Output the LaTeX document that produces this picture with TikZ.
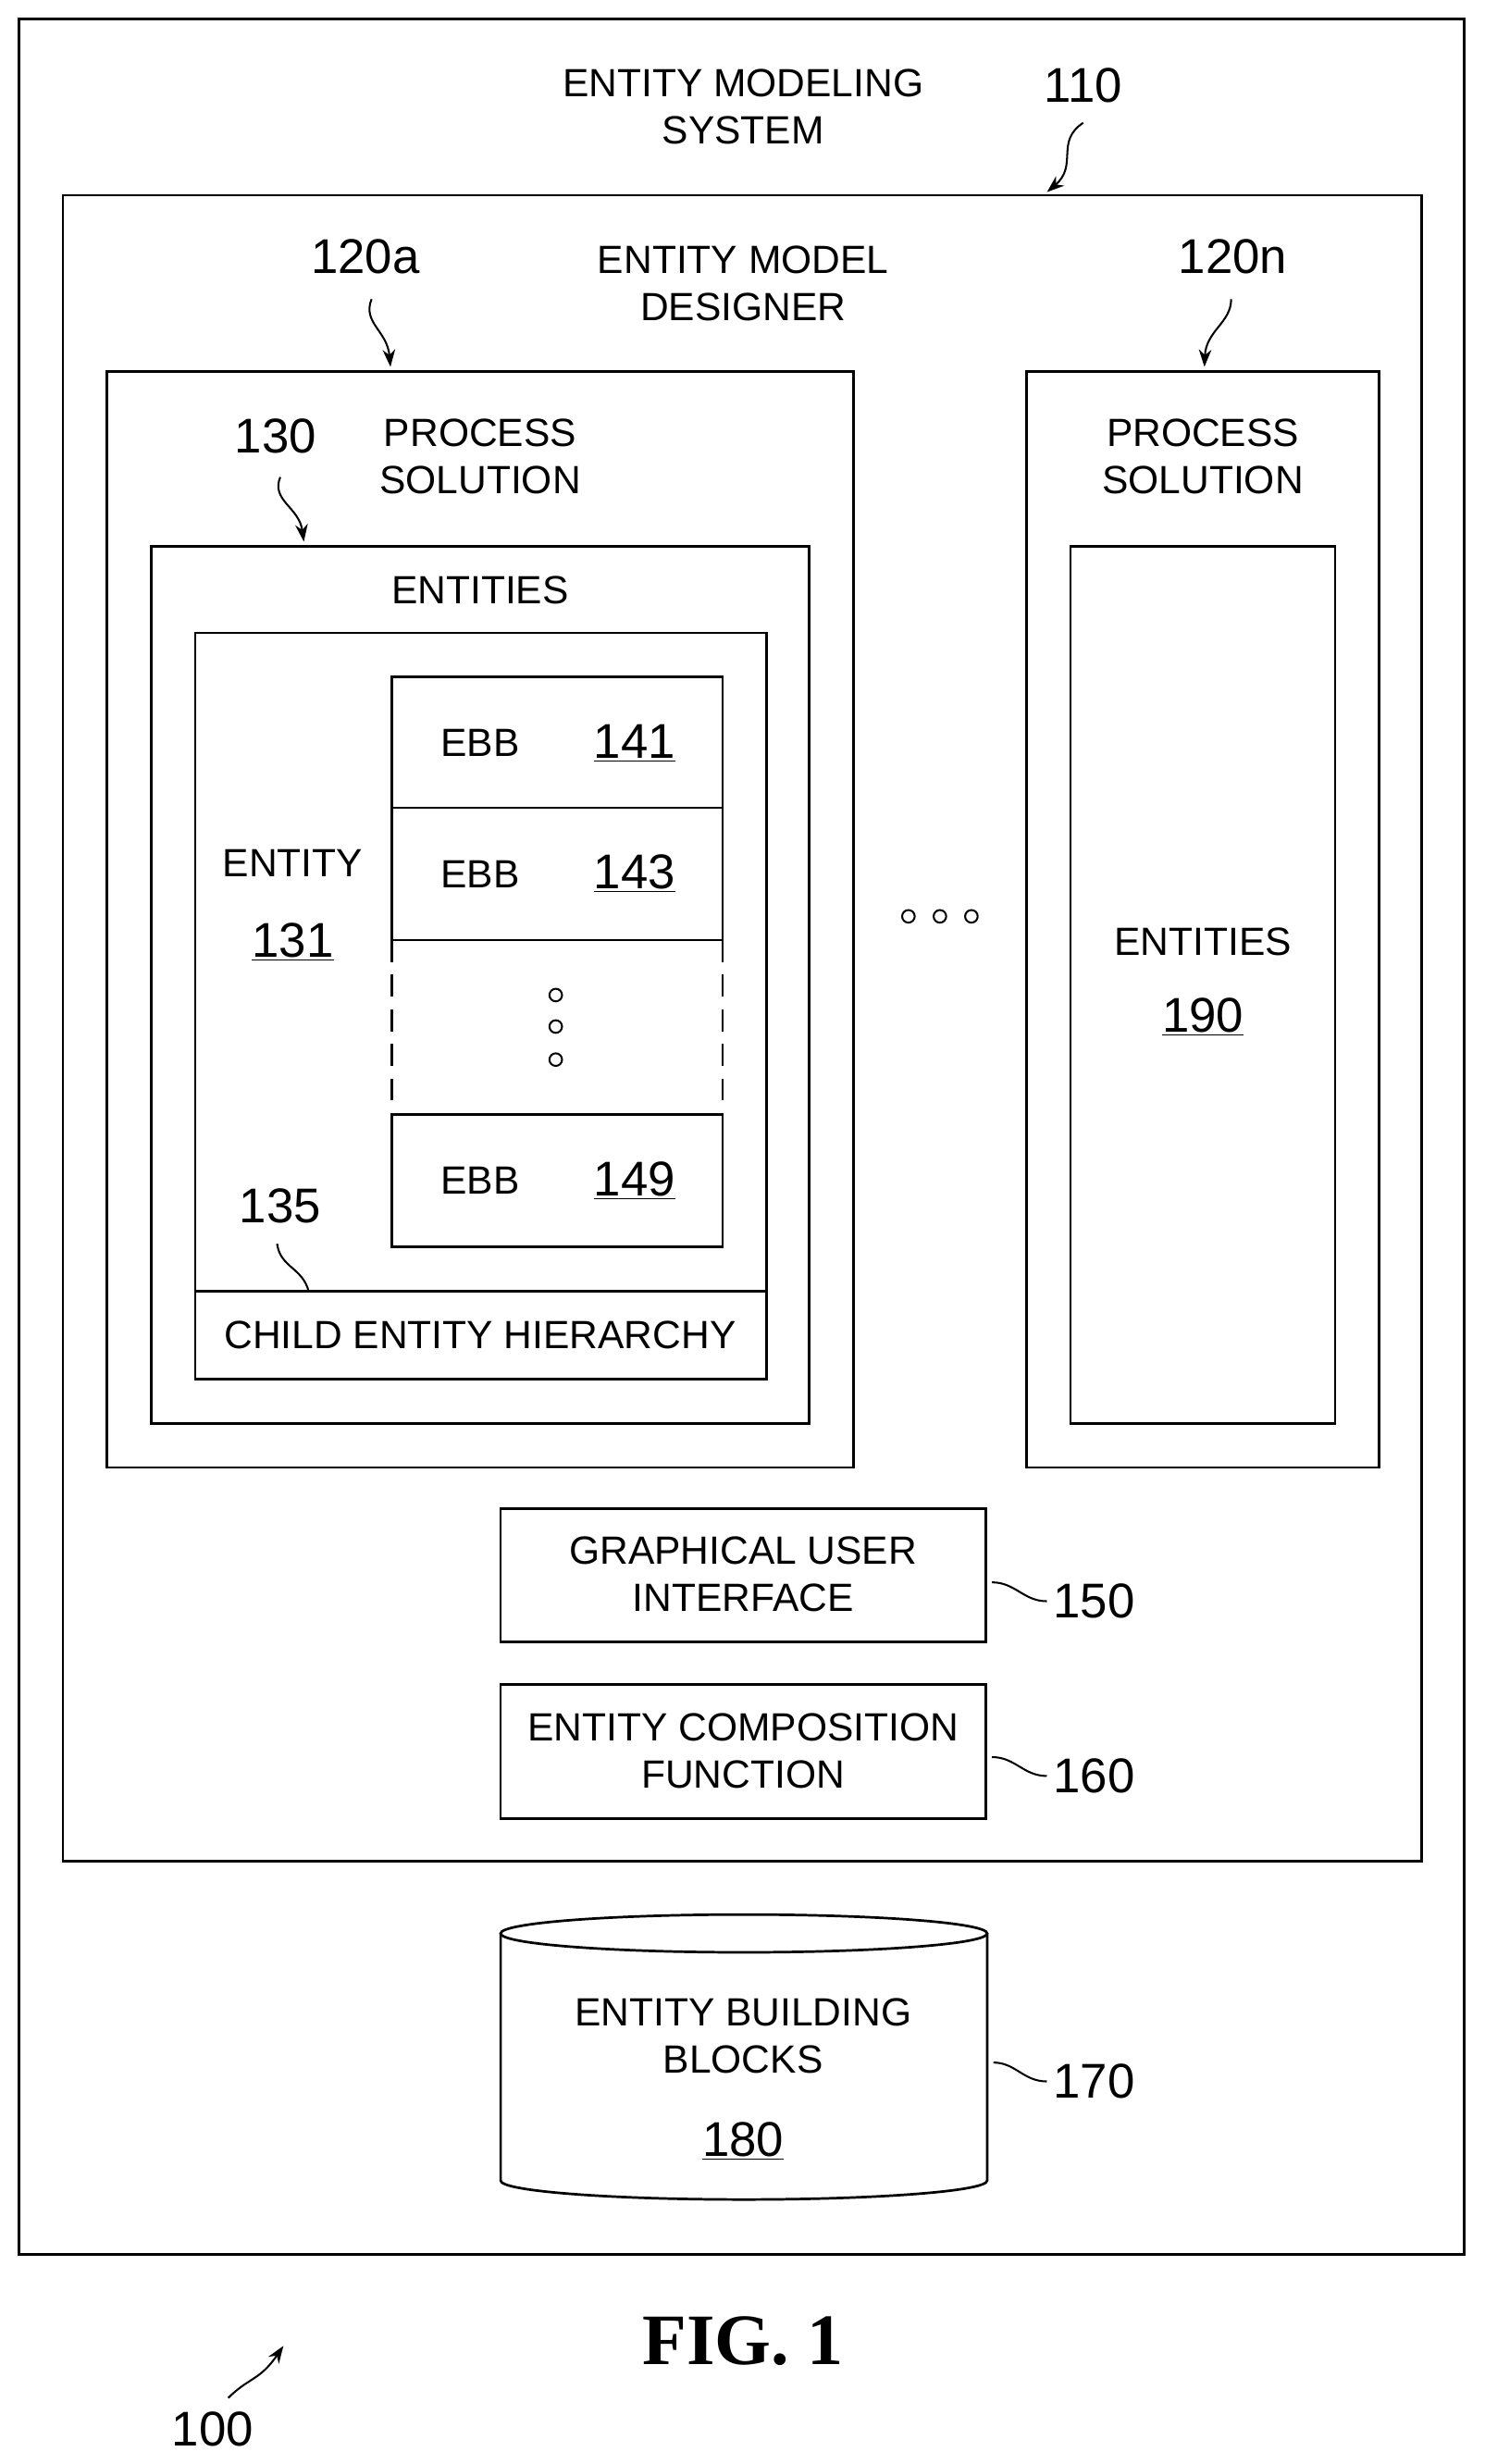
\documentclass[tikz,border=0pt]{standalone}
\usepackage{fontspec}
\setmainfont{Liberation Sans}
\newfontfamily\figfont{Liberation Serif}
\usetikzlibrary{arrows.meta}
\begin{document}
\begin{tikzpicture}[x=1pt,y=-1pt,
  box/.style={draw,line width=1.6pt},
  txt/.style={font=\fontsize{25}{30}\selectfont,align=center,inner sep=0pt},
  num/.style={font=\fontsize{31}{34}\selectfont,inner sep=0pt},
  lead/.style={line width=1.2pt,-{Stealth[length=11pt,width=8pt]}},
  plain/.style={line width=1.2pt}]
\useasboundingbox (0,0) rectangle (943,1565);
\draw[box] (12,12) rectangle (930,1432);
\node[txt] (t110) at (472,68) {ENTITY MODELING\\SYSTEM};
\node[num] (n110) at (688,54) {110};
\draw[box] (40,124) rectangle (903,1182);
\coordinate (a110) at (665,122);
\draw[lead] (688,78) .. controls (670,90) and (685,105) .. (a110);
\node[txt] (t120) at (472,180) {ENTITY MODEL\\DESIGNER};
\node[num] (n120a) at (232,163) {120a};
\coordinate (a120a) at (248,233);
\draw[lead] (236,190) .. controls (230,205) and (246,210) .. (a120a);
\draw[box] (68,236) rectangle (542,932);
\node[txt] (ps1) at (305,290) {PROCESS\\SOLUTION};
\node[num] (n130) at (175,277) {130};
\coordinate (a130) at (193,344);
\draw[lead] (178,303) .. controls (172,318) and (190,322) .. (a130);
\draw[box] (96,347) rectangle (514,904);
\node[txt] (ent) at (305,375) {ENTITIES};
\draw[box] (124,402) rectangle (487,876);
\draw[box] (124,820) -- (487,820);
\node[txt] (ceh) at (305,848) {CHILD ENTITY HIERARCHY};
\node[txt] (e131) at (186,548) {ENTITY};
\node[num] (n131) at (186,598) {\underline{131}};
\node[num] (n135) at (178,766) {135};
\coordinate (a135) at (196,820);
\draw[plain] (176,790) .. controls (178,805) and (192,805) .. (a135);
\draw[box] (249,430) rectangle (459,597);
\draw[box] (249,513) -- (459,513);
\draw[box,dash pattern=on 14pt off 8pt] (249,597) -- (249,708) (459,597) -- (459,708);
\draw[box] (249,708) rectangle (459,792);
\node[txt] (ebb1) at (305,472) {EBB}; \node[num] (n141) at (403,472) {\underline{141}};
\node[txt] (ebb3) at (305,555) {EBB}; \node[num] (n143) at (403,555) {\underline{143}};
\node[txt] (ebb9) at (305,750) {EBB}; \node[num] (n149) at (403,750) {\underline{149}};
\foreach \y in {632,652,673} \draw[line width=1.2pt] (353,\y) circle (4pt);
\foreach \x in {577,597,617} \draw[line width=1.2pt] (\x,582) circle (4pt);
\node[num] (n120n) at (783,163) {120n};
\coordinate (a120n) at (765,233);
\draw[lead] (782,190) .. controls (782,205) and (766,210) .. (a120n);
\draw[box] (652,236) rectangle (876,932);
\node[txt] (ps2) at (764,290) {PROCESS\\SOLUTION};
\draw[box] (680,347) rectangle (848,904);
\node[txt] (e190) at (764,598) {ENTITIES};
\node[num] (n190) at (764,646) {\underline{190}};
\draw[box] (318,958) rectangle (626,1043);
\node[txt] (gui) at (472,1000) {GRAPHICAL USER\\INTERFACE};
\node[num] (n150) at (695,1017) {150};
\draw[plain] (630,1005) .. controls (645,1005) and (650,1017) .. ([xshift=-4pt]n150.west);
\draw[box] (318,1070) rectangle (626,1155);
\node[txt] (ecf) at (472,1112) {ENTITY COMPOSITION\\FUNCTION};
\node[num] (n160) at (695,1128) {160};
\draw[plain] (630,1116) .. controls (645,1116) and (650,1128) .. ([xshift=-4pt]n160.west);
\draw[box] (472.5,1228) ellipse (154.5pt and 12pt);
\draw[box] (318,1228) -- (318,1385) arc[start angle=180,end angle=360,x radius=154.5pt,y radius=12pt] -- (627,1228);
\node[txt] (ebb) at (472,1293) {ENTITY BUILDING\\BLOCKS};
\node[num] (n180) at (472,1360) {\underline{180}};
\node[num] (n170) at (695,1322) {170};
\draw[plain] (631,1310) .. controls (645,1310) and (650,1322) .. ([xshift=-4pt]n170.west);
\node[txt,font=\figfont\bfseries\fontsize{46}{50}\selectfont] (fig) at (472,1487) {FIG. 1};
\node[num] (n100) at (135,1543) {100};
\coordinate (a100) at (180,1490);
\draw[lead] (145,1523) .. controls (158,1510) and (165,1512) .. (a100);
\end{tikzpicture}
\end{document}
